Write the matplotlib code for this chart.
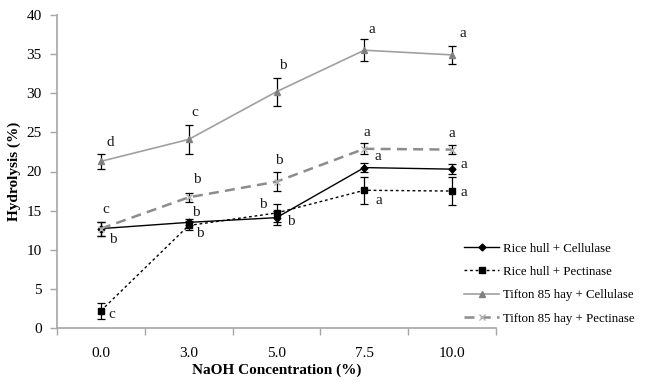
import matplotlib
matplotlib.use("Agg")
import matplotlib.pyplot as plt
from matplotlib.lines import Line2D
import numpy as np

categories = ["0.0", "3.0", "5.0", "7.5", "10.0"]
series_names = ["Rice hull + Cellulase", "Rice hull + Pectinase",
                "Tifton 85 hay + Cellulase", "Tifton 85 hay + Pectinase"]
rice_cell = [12.7, 13.5, 14.1, 20.5, 20.3]
rice_cell_err = [0.9, 0.4, 0.9, 0.6, 0.6]
rice_pect = [2.2, 13.1, 14.7, 17.6, 17.5]
rice_pect_err = [1.0, 0.6, 1.2, 1.7, 1.8]
tift_cell = [21.3, 24.1, 30.2, 35.5, 34.9]
tift_cell_err = [1.0, 1.8, 1.8, 1.4, 1.2]
tift_pect = [12.7, 16.7, 18.7, 22.9, 22.8]
tift_pect_err = [0.9, 0.6, 1.2, 0.7, 0.6]
rice_cell_letters = ["b", "b", "b", "a", "a"]
rice_pect_letters = ["c", "b", "b", "a", "a"]
tift_cell_letters = ["d", "c", "b", "a", "a"]
tift_pect_letters = ["c", "b", "b", "a", "a"]

# label offsets in pixels (dx, dy up)
rice_cell_off = [(12, -11), (7, 10), (14, -4), (14, 11), (12, 5)]
rice_pect_off = [(11, -4), (11, -8), (-14, 8), (15, -10), (12, -1)]
tift_cell_off = [(9, 19), (6, 27), (6, 26), (8, 21), (11, 21)]
tift_pect_off = [(5, 19), (8, 18), (2, 21), (3, 16), (0, 16)]

plt.rcParams['font.family'] = ['Liberation Serif', 'DejaVu Serif']
fig = plt.figure(figsize=(6.5, 3.86), dpi=100)
ax = fig.add_axes([57/650, 1-328/386, (496-57)/650, (328-15)/386])

x = np.arange(len(categories))
spine_c = "#a6a6a6"
ek = dict(ecolor="black", elinewidth=0.9, capsize=3, capthick=0.9)

styles = [
    dict(color="black", lw=1.0, ls="-", marker="D", ms=3.5, mfc="black", mec="black"),
    dict(color="black", lw=1.0, ls=(0, (2, 2)), marker="s", ms=5, mfc="black", mec="black"),
    dict(color="#a0a0a0", lw=1.2, ls="-", marker="^", ms=5, mfc="#808080", mec="#808080"),
    dict(color="#8c8c8c", lw=1.8, ls=(0, (4, 2.5)), marker="x", ms=5, mfc="#b0b0b0", mec="#b0b0b0"),
]
data = [(rice_cell, rice_cell_err), (rice_pect, rice_pect_err),
        (tift_cell, tift_cell_err), (tift_pect, tift_pect_err)]
handles = []
for (vals, err), st, name in zip(data, styles, series_names):
    ax.errorbar(x, vals, yerr=err, **st, **ek)
    handles.append(Line2D([], [], **st, label=name))

for vals, letters, offs in [(rice_cell, rice_cell_letters, rice_cell_off),
                            (rice_pect, rice_pect_letters, rice_pect_off),
                            (tift_cell, tift_cell_letters, tift_cell_off),
                            (tift_pect, tift_pect_letters, tift_pect_off)]:
    for xi, v, t, (dx, dy) in zip(x, vals, letters, offs):
        ax.annotate(t, (xi, v), xytext=(dx, dy), textcoords="offset pixels",
                    ha="center", va="center", fontsize=11, color="#1a1a1a")

ax.set_xlim(-0.5, 4.5)
ax.set_ylim(0, 40)
ax.set_yticks(np.arange(0, 41, 5))
ax.set_xticks(np.arange(-0.5, 5, 1))
ax.set_xticklabels([])
ax.set_xticks(x, minor=True)
ax.set_xticklabels(categories, minor=True)
ax.tick_params(axis="x", which="major", direction="out", length=5, color=spine_c, width=1)
ax.tick_params(axis="x", which="minor", length=0, pad=14, labelsize=11)
ax.tick_params(axis="y", direction="out", length=5, color=spine_c, width=1, labelsize=11, pad=6)
for s in ["top", "right"]:
    ax.spines[s].set_visible(False)
for s in ["left", "bottom"]:
    ax.spines[s].set_color(spine_c)
    ax.spines[s].set_linewidth(1.2)

ax.set_xlabel("NaOH Concentration (%)", fontweight="bold", fontsize=11, labelpad=2)
ax.set_ylabel("Hydrolysis (%)", fontweight="bold", fontsize=11, labelpad=4)

leg = fig.legend(handles=handles, loc="upper left", bbox_to_anchor=(458/650, 1-236/386),
                 frameon=False, fontsize=9.3, handlelength=2.7, labelspacing=0.88,
                 handletextpad=0.3, borderpad=0)

fig.savefig("out.png", dpi=100)
